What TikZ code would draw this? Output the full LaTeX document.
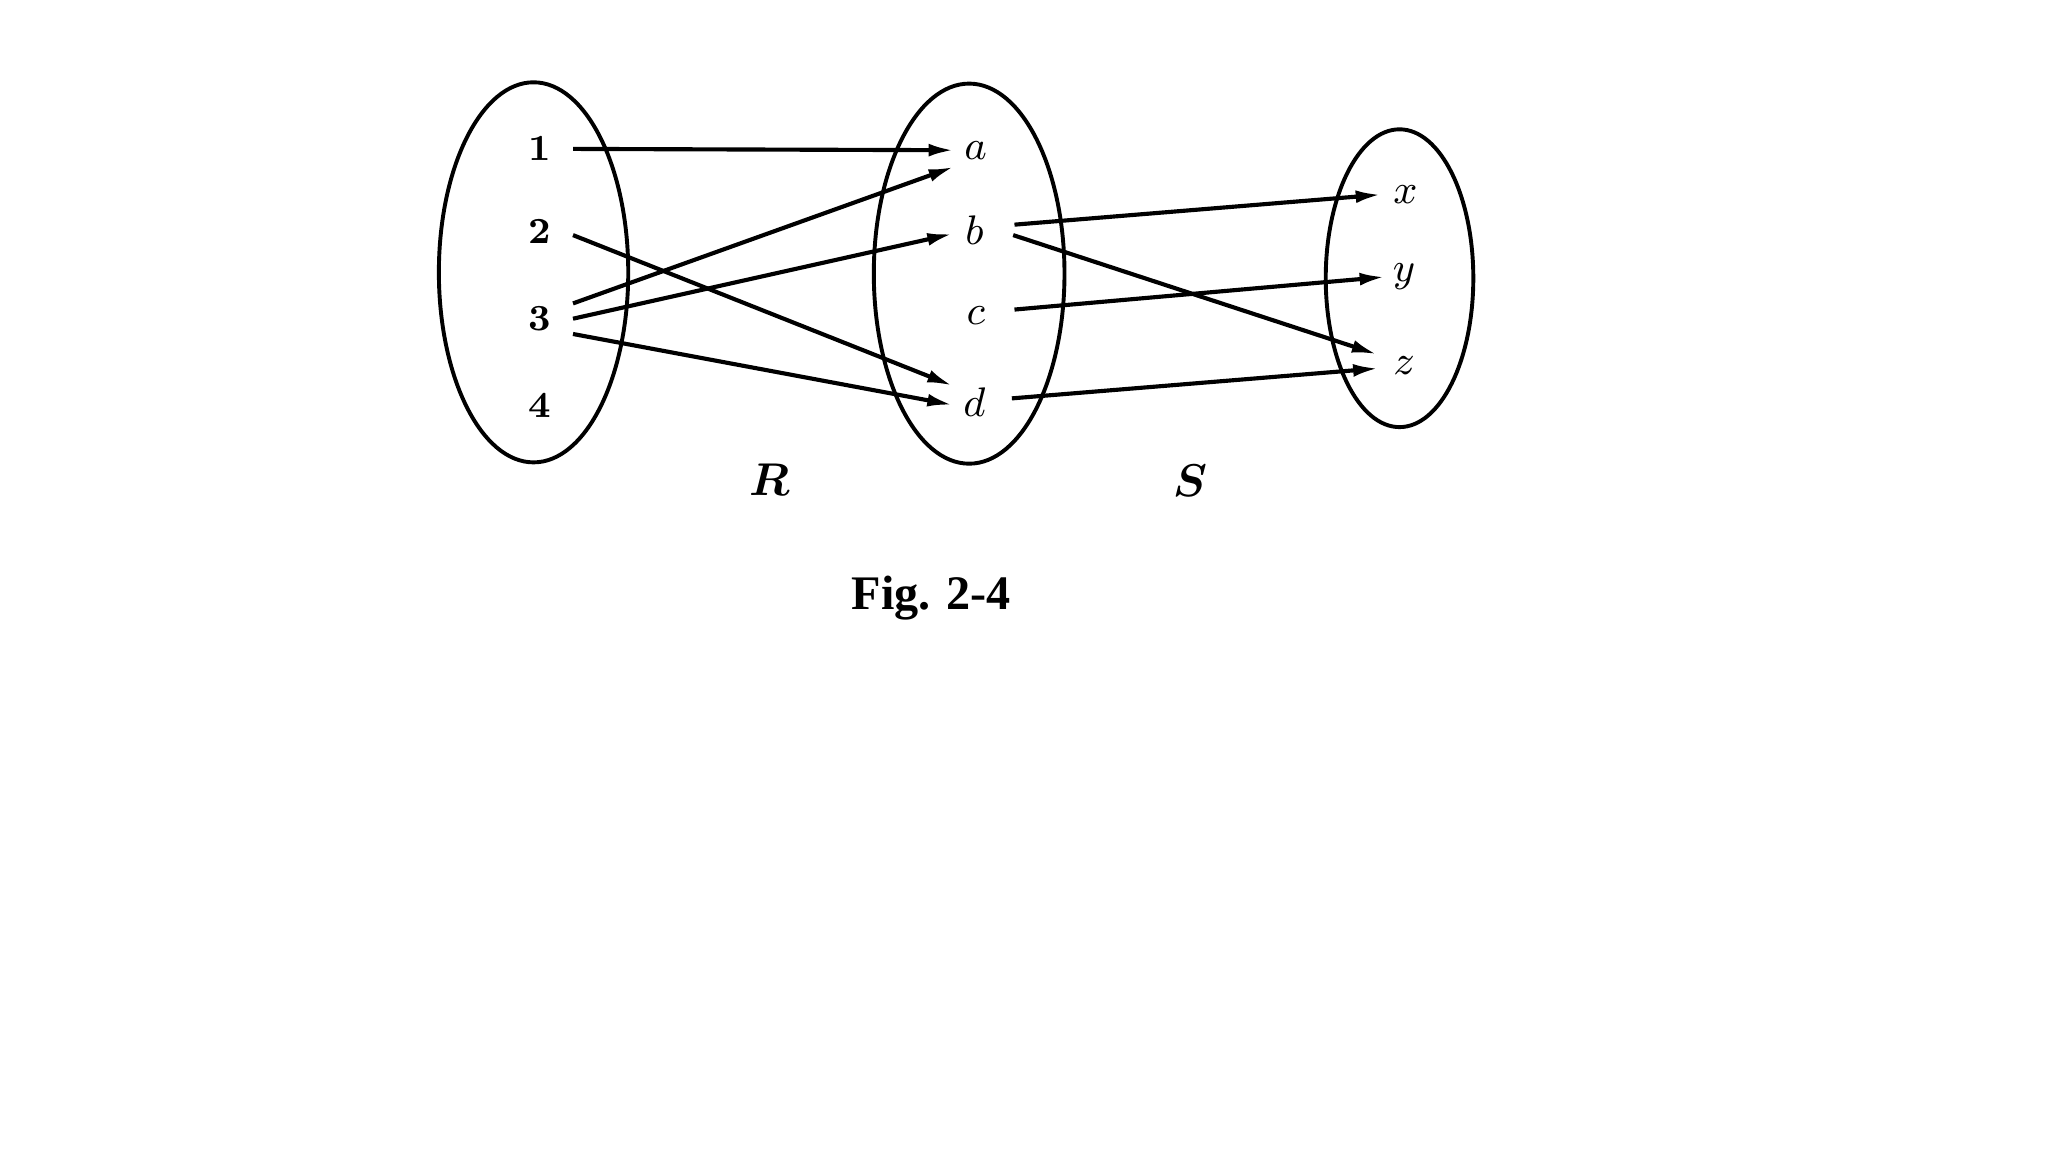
\documentclass[tikz,border=0pt]{standalone}
\usepackage{amsmath,amssymb}
\usepackage{fontspec}
\newfontfamily\capfont{Liberation Serif}
\usepackage{tikz}
\usetikzlibrary{arrows.meta}

\begin{document}
\begin{tikzpicture}[arr/.style={-{Latex[length=5.5pt,width=2.8pt]},line width=0.9pt},
  numL/.style={font=\footnotesize\bfseries,minimum width=0.5cm,minimum height=0.22cm,inner sep=0pt},
  letM/.style={font=\small,minimum width=0.32cm,minimum height=0.24cm,inner sep=0pt},
  letR/.style={font=\small,minimum width=0.36cm,minimum height=0.16cm,inner sep=0pt}]
  \useasboundingbox (0,0) rectangle (15.68,8.82);
  % Sets
  \draw[line width=0.85pt] (4.085,6.735) ellipse[x radius=0.725,y radius=1.455];
  \draw[line width=0.85pt] (7.42,6.725) ellipse[x radius=0.73,y radius=1.455];
  \draw[line width=0.85pt] (10.715,6.69) ellipse[x radius=0.565,y radius=1.14];
  % Elements of the first set
  \node[numL] (n1) at (4.13,7.68) {1};
  \node[numL] (n2) at (4.13,7.05) {2};
  \node[numL] (n3) at (4.13,6.38) {3};
  \node[numL] (n4) at (4.13,5.72) {4};
  % Elements of the second set
  \node[letM] (a) at (7.47,7.67) {$a$};
  \node[letM] (b) at (7.46,7.06) {$b$};
  \node[letM] (c) at (7.47,6.40) {$c$};
  \node[letM] (d) at (7.46,5.74) {$d$};
  % Elements of the third set
  \node[letR] (x) at (10.76,7.33) {$x$};
  \node[letR] (y) at (10.75,6.70) {$y$};
  \node[letR] (z) at (10.75,6.02) {$z$};
  % Relation R
  \draw[arr] (n1.east) -- (a.west);
  \draw[arr] (n3.north east) -- (a.south west);
  \draw[arr] (n3.east) -- ([yshift=-0.03cm]b.west);
  \draw[arr] ([yshift=-0.03cm]n2.east) -- (d.north west);
  \draw[arr] (n3.south east) -- ([yshift=-0.02cm]d.west);
  % Relation S
  \draw[arr] ([shift={(0.14,0.04)}]b.east) -- (x.west);
  \draw[arr] ([shift={(0.13,-0.04)}]b.east) -- ([xshift=-0.02cm]z.north west);
  \draw[arr] ([shift={(0.13,0.05)}]c.east) -- ([xshift=0.04cm]y.west);
  \draw[arr] ([shift={(0.12,0.03)}]d.east) -- ([shift={(-0.01,-0.02)}]z.west);
  % Names
  \node[font=\normalsize] (rlab) at (5.89,5.15) {$\boldsymbol{R}$};
  \node[font=\normalsize] (slab) at (9.11,5.14) {$\boldsymbol{S}$};
  \node[font=\capfont\bfseries\fontsize{10.5}{13}\selectfont] (cap) at (7.13,4.24) {Fig. 2-4};
\end{tikzpicture}
\end{document}
